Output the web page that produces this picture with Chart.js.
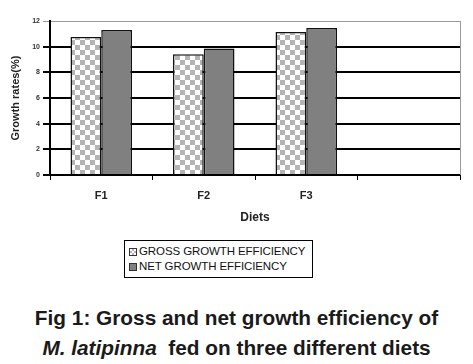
<!DOCTYPE html>
<html>
<head>
<meta charset="utf-8">
<script src="https://cdn.jsdelivr.net/npm/chart.js@4.4.1/dist/chart.umd.min.js"></script>
<style>
  html, body { margin: 0; padding: 0; background: #fff; }
  body { width: 473px; height: 364px; position: relative; overflow: hidden; font-family: "Liberation Sans", Arial, sans-serif; }
  #wrap { position: absolute; left: 0; top: 0; width: 473px; height: 232px; }
  #legend { position: absolute; left: 124px; top: 240px; width: 187px; height: 36px; border: 1px solid #000; font-size: 11.5px; color: #111; }
  #legend .row { position: absolute; left: 4px; height: 13px; line-height: 13px; white-space: nowrap; letter-spacing: -0.1px; }
  #legend .sw { display: inline-block; width: 8px; height: 8px; border: 1px solid #333; margin-right: 2px; vertical-align: -1px; box-sizing: border-box; }
  #caption { position: absolute; left: 0; top: 303px; width: 473px; text-align: center; font-weight: bold; font-size: 20.8px; line-height: 30px; color: #1a1a1a; }
</style>
</head>
<body>
<div id="wrap"><canvas id="chart" width="473" height="232"></canvas></div>
<div id="legend"></div>
<div id="caption">Fig 1: Gross and net growth efficiency of<br><i>M. latipinna</i>&nbsp; fed on three different diets</div>
<script>
const diets = ["F1", "F2", "F3", ""];
const seriesNames = ["GROSS GROWTH EFFICIENCY", "NET GROWTH EFFICIENCY"];
const grossValues = [10.75, 9.4, 11.15, null];
const netValues = [11.3, 9.85, 11.45, null];
const yTicks = [0, 2, 4, 6, 8, 10, 12];

// checkered fill for the gross series
function checker() {
    const c = document.createElement("canvas");
    c.width = 10; c.height = 10;
    const g = c.getContext("2d");
    g.fillStyle = "#fff";
    g.fillRect(0, 0, 10, 10);
    g.fillStyle = "#b4b4b4";
    g.fillRect(0, 0, 5, 5);
    g.fillRect(5, 5, 5, 5);
    return g.createPattern(c, "repeat");
}
const checkerFill = checker();
const netFill = "#808080";

// thin grey line on the right of the plot area
const frame = {
    id: "frame",
    afterDraw(chart) {
        const { ctx, chartArea: a } = chart;
        ctx.save();
        ctx.strokeStyle = "#9a9a9a";
        ctx.lineWidth = 1;
        ctx.beginPath();
        ctx.moveTo(a.right + 0.5, a.top);
        ctx.lineTo(a.right + 0.5, a.bottom);
        ctx.stroke();
        ctx.restore();
    },
};

new Chart(document.getElementById("chart"), {
    type: "bar",
    data: {
        labels: diets,
        datasets: [
            {
                label: seriesNames[0],
                data: grossValues,
                backgroundColor: checkerFill,
                borderColor: "#111",
                borderWidth: 1.5,
                categoryPercentage: 0.6,
                barPercentage: 1.0,
            },
            {
                label: seriesNames[1],
                data: netValues,
                backgroundColor: netFill,
                borderColor: "#111",
                borderWidth: 1.5,
                categoryPercentage: 0.6,
                barPercentage: 1.0,
            },
        ],
    },
    options: {
        responsive: false,
        animation: false,
        events: [],
        layout: { padding: { left: 0, right: 13, top: 21, bottom: 7 } },
        plugins: {
            legend: { display: false },
            tooltip: { enabled: false },
        },
        scales: {
            x: {
                offset: true,
                grid: {
                    offset: true,
                    drawOnChartArea: false,
                    drawTicks: true,
                    tickLength: 5,
                    color: "#000",
                    lineWidth: 1,
                },
                border: { color: "#000", width: 2 },
                ticks: {
                    color: "#222",
                    font: { family: "Liberation Sans", size: 11, weight: "bold" },
                    padding: 9,
                },
                title: {
                    display: true,
                    text: "Diets",
                    color: "#222",
                    font: { family: "Liberation Sans", size: 12, weight: "bold" },
                    padding: { top: 6, bottom: 0 },
                },
                afterFit: (s) => { s.height = 50; },
            },
            y: {
                min: 0,
                max: 12,
                afterBuildTicks: (s) => { s.ticks = yTicks.map((v) => ({ value: v })); },
                grid: {
                    color: (c) => (c.tick && c.tick.value === 12 ? "#9a9a9a" : "#000"),
                    lineWidth: (c) => (c.tick && c.tick.value === 12 ? 1 : 2),
                    tickLength: 7,
                },
                border: { color: "#000", width: 2 },
                ticks: {
                    color: "#333",
                    font: { family: "Liberation Sans", size: 7, weight: "bold" },
                    padding: 3,
                },
                title: {
                    display: true,
                    text: "Growth rates(%)",
                    color: "#222",
                    font: { family: "Liberation Sans", size: 11, weight: "bold" },
                    padding: { top: 9, bottom: 0 },
                },
                afterFit: (s) => { s.width = 50; },
            },
        },
    },
    plugins: [frame],
});

// html legend built from the series names
const legend = document.getElementById("legend");
seriesNames.forEach((name, i) => {
    const row = document.createElement("div");
    row.className = "row";
    row.style.top = (i === 0 ? 4 : 19) + "px";
    const sw = document.createElement("span");
    sw.className = "sw";
    if (i === 0) {
        sw.style.background = "repeating-conic-gradient(#b4b4b4 0 25%, #fff 0 50%) 0 0 / 4px 4px";
    } else {
        sw.style.background = netFill;
    }
    row.appendChild(sw);
    row.appendChild(document.createTextNode(name));
    legend.appendChild(row);
});
</script>
</body>
</html>
